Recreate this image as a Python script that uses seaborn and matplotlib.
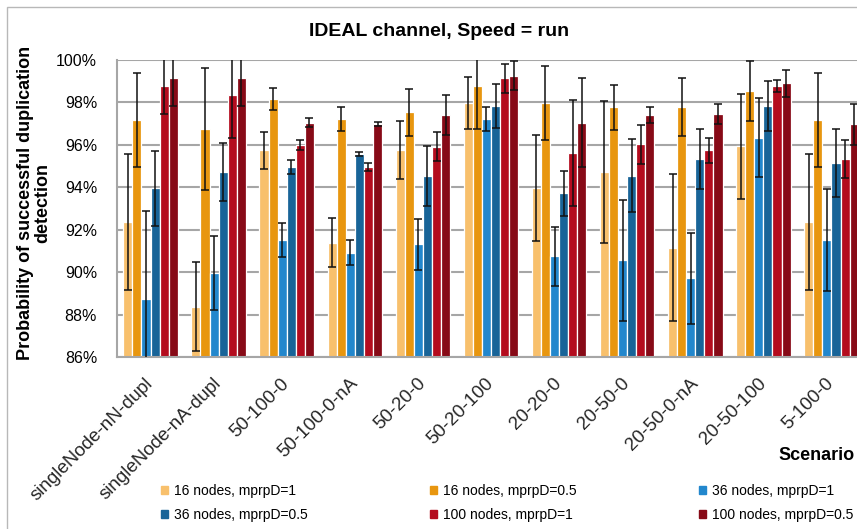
import matplotlib
matplotlib.use("Agg")
import matplotlib.pyplot as plt
from matplotlib.ticker import PercentFormatter, FixedLocator
from matplotlib.patches import Rectangle
import seaborn as sns
import pandas as pd
import numpy as np

scenarios = ['singleNode-nN-dupl', 'singleNode-nA-dupl', '50-100-0', '50-100-0-nA', '50-20-0',
             '50-20-100', '20-20-0', '20-50-0', '20-50-0-nA', '20-50-100', '5-100-0']
series = ['16 nodes, mprpD=1', '16 nodes, mprpD=0.5', '36 nodes, mprpD=1',
          '36 nodes, mprpD=0.5', '100 nodes, mprpD=1', '100 nodes, mprpD=0.5']

# mean probability (%) per scenario
s16_1 = [92.35, 88.38, 95.75, 91.40, 95.75, 97.96, 93.97, 94.73, 91.16, 95.93, 92.35]
s16_05 = [97.17, 96.75, 98.16, 97.22, 97.54, 98.78, 97.96, 97.77, 97.77, 98.54, 97.17]
s36_1 = [88.73, 89.98, 91.52, 90.93, 91.33, 97.22, 90.75, 90.58, 89.73, 96.34, 91.52]
s36_05 = [93.96, 94.73, 94.96, 95.57, 94.55, 97.83, 93.72, 94.55, 95.34, 97.83, 95.15]
s100_1 = [98.78, 98.35, 95.98, 94.96, 95.92, 99.14, 95.62, 96.04, 95.75, 98.78, 95.34]
s100_05 = [99.14, 99.14, 97.05, 96.97, 97.41, 99.25, 97.05, 97.41, 97.47, 98.90, 96.98]

# error bar half-widths (%)
e16_1 = [3.20, 2.10, 0.87, 1.15, 1.36, 1.23, 2.50, 3.33, 3.45, 2.48, 3.20]
e16_05 = [2.20, 2.85, 0.53, 0.58, 1.10, 2.05, 1.75, 1.05, 1.37, 1.40, 2.20]
e36_1 = [4.17, 1.75, 0.80, 0.60, 1.20, 0.56, 1.37, 2.85, 2.14, 1.87, 2.40]
e36_05 = [1.77, 1.35, 0.33, 0.10, 1.42, 1.03, 1.05, 1.72, 1.40, 1.18, 1.60]
e100_1 = [1.32, 2.04, 0.24, 0.20, 0.67, 0.68, 2.50, 0.92, 0.58, 0.27, 0.90]
e100_05 = [1.32, 1.32, 0.20, 0.10, 0.93, 0.68, 2.10, 0.37, 0.48, 0.65, 0.96]

values = [s16_1, s16_05, s36_1, s36_05, s100_1, s100_05]
errors = [e16_1, e16_05, e36_1, e36_05, e100_1, e100_05]
colors = ['#F8C06C', '#E8960F', '#2287CD', '#186498', '#B40C1E', '#870A17']

rows = []
for name, vals in zip(series, values):
    for sc, v in zip(scenarios, vals):
        rows.append({'scenario': sc, 'series': name, 'value': v})
df = pd.DataFrame(rows)

sns.set_style('white')
plt.rcParams['font.family'] = ['Liberation Sans', 'DejaVu Sans']
plt.rcParams['text.color'] = 'black'

fig = plt.figure(figsize=(8.57, 5.29), dpi=100)
ax = fig.add_axes([116.5 / 857, 1 - 357.3 / 529, 749 / 857, 297.3 / 529])

sns.barplot(data=df, x='scenario', y='value', hue='series', hue_order=series,
            palette=colors, saturation=1, errorbar=None, width=0.8, edgecolor='white',
            linewidth=0.9, legend=False, ax=ax, zorder=2)

for cont, err in zip(ax.containers, errors):
    xs = [b.get_x() + b.get_width() / 2 for b in cont]
    ys = [b.get_height() for b in cont]
    ax.errorbar(xs, ys, yerr=err, fmt='none', ecolor='#111111', elinewidth=1.1,
                capsize=3, capthick=1.1, zorder=3)

ax.set_ylim(86, 100)
ax.set_xlim(-0.5, len(scenarios) - 0.5)
ax.yaxis.set_major_locator(FixedLocator(np.arange(86, 100.1, 2)))
ax.yaxis.set_major_formatter(PercentFormatter(decimals=0))
ax.grid(axis='y', color='#A6A6A6', linewidth=1.5, zorder=0)
ax.set_axisbelow(True)
for s in ['top', 'right']:
    ax.spines[s].set_visible(False)
for s in ['left', 'bottom']:
    ax.spines[s].set_color('#A6A6A6')
    ax.spines[s].set_linewidth(1.5)

ax.tick_params(axis='y', colors='#A6A6A6', labelcolor='black', length=4, width=1.5,
               pad=10, labelsize=11.5)
ax.set_xticks(np.arange(-0.5, len(scenarios)), minor=True)
ax.tick_params(axis='x', which='minor', length=4, width=1.5, color='#A6A6A6')
ax.tick_params(axis='x', which='major', length=0, pad=17, labelsize=13.5)
ax.set_xticks(range(len(scenarios)))
ax.set_xticklabels(scenarios, rotation=45, ha='right', va='center', rotation_mode='anchor')
ax.set_xlabel('')
ax.set_ylabel('')

fig.text(439 / 857, 1 - 32 / 529, 'IDEAL channel, Speed = run', ha='center', va='center',
         fontsize=14, fontweight='bold')
fig.text(34 / 857, 1 - 203 / 529, 'Probability of successful duplication\ndetection',
         rotation=90, ha='center', va='center', multialignment='center',
         fontsize=13, fontweight='bold', linespacing=1.0)
fig.text(778 / 857, 1 - 455 / 529, 'Scenario', ha='left', va='center',
         fontsize=13, fontweight='bold')

# outer chart border
fig.patches.append(Rectangle((7 / 857, -0.05), 1.1, 1 - 7 / 529 + 0.05, transform=fig.transFigure,
                             fill=False, edgecolor='#B8B8B8', linewidth=1))

handles = [Rectangle((0, 0), 1, 1, color=c) for c in colors]
order = [0, 3, 1, 4, 2, 5]
fig.legend([handles[i] for i in order], [series[i] for i in order], ncol=3,
           loc='center left', bbox_to_anchor=(148 / 857, 1 - 503 / 529), frameon=False,
           fontsize=10, handlelength=0.55, handleheight=0.55, handletextpad=0.4,
           columnspacing=8.8, labelspacing=0.75)

fig.savefig('out.png', dpi=100)
